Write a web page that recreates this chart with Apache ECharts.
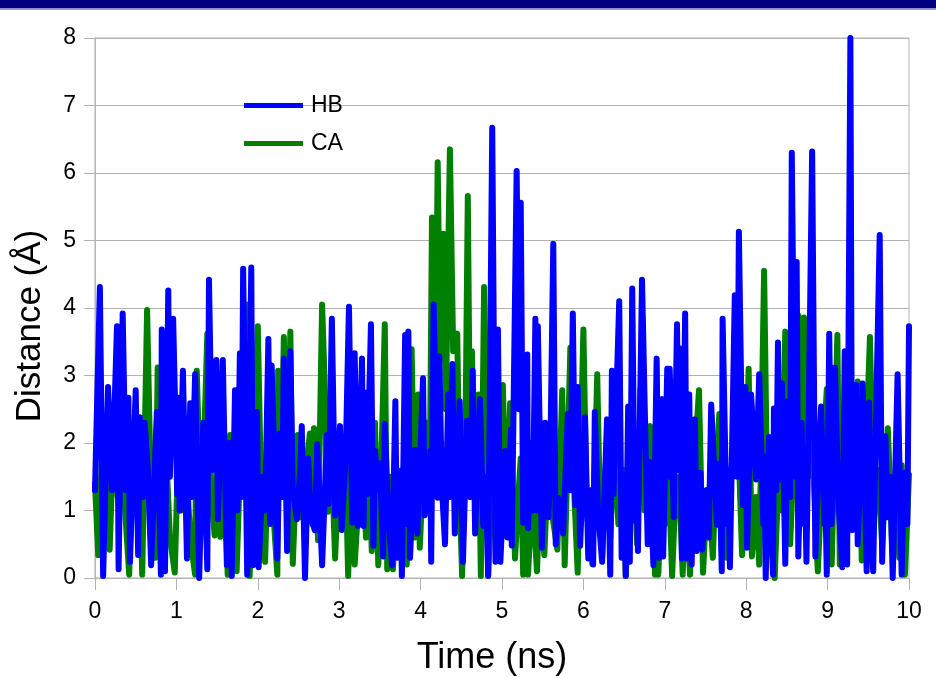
<!DOCTYPE html>
<html>
<head>
<meta charset="utf-8">
<script src="https://cdn.jsdelivr.net/npm/echarts@6/dist/echarts.min.js"></script>
<style>
  html, body { margin: 0; padding: 0; background: #fff; }
  #main { width: 936px; height: 678px; }
</style>
</head>
<body>
<div id="main"></div>
<script>
// [time (ns), distance (Å)]
const hbData = [
  [0.00,1.3],[0.06,4.31],[0.10,0.03],[0.16,2.83],[0.21,1.3],[0.27,3.73],[0.29,0.13],[0.34,3.92],[0.38,1.3],[0.41,2.67],[0.43,0.24],[0.50,2.78],[0.53,0.34],[0.55,2.38],[0.59,1.2],[0.61,2.3],[0.65,1.6],[0.69,0.19],[0.76,2.46],[0.81,0.05],[0.82,3.68],[0.86,0.1],[0.90,4.26],[0.92,1.5],[0.96,3.84],
  [1.01,1.24],[1.02,2.67],[1.04,1.0],[1.08,3.07],[1.13,0.29],[1.17,2.59],[1.19,1.2],[1.23,3.02],[1.28,0],[1.33,2.3],[1.38,0.13],[1.40,4.42],[1.44,1.6],[1.49,3.23],[1.51,0.87],[1.57,3.23],[1.62,0.19],[1.65,2.0],[1.68,0.03],[1.72,2.78],[1.75,1.0],[1.78,3.33],[1.80,1.2],[1.82,4.58],[1.87,0.05],[1.92,4.6],[1.94,0.19],[1.99,2.46],
  [2.01,0.16],[2.06,1.5],[2.09,1.0],[2.13,3.54],[2.15,0.8],[2.17,3.15],[2.24,0.29],[2.27,2.14],[2.30,1.2],[2.32,3.25],[2.36,0.4],[2.40,3.36],[2.43,1.3],[2.48,0.87],[2.52,1.6],[2.54,2.25],[2.58,0],[2.62,1.77],[2.65,0.9],[2.70,0.71],[2.73,1.98],[2.79,0.19],[2.85,2.12],[2.87,1.1],[2.91,3.84],[2.95,0.93],
  [3.01,2.25],[3.03,0.71],[3.08,1.8],[3.12,4.02],[3.16,0.82],[3.19,3.33],[3.23,0.77],[3.28,3.25],[3.30,0.77],[3.32,2.75],[3.34,1.24],[3.39,3.76],[3.42,0.48],[3.44,1.88],[3.48,1.3],[3.50,1.7],[3.54,0.32],[3.56,2.28],[3.60,1.0],[3.65,0.19],[3.69,2.62],[3.71,0.3],[3.75,1.59],[3.77,0.03],[3.81,3.6],[3.83,0.8],[3.85,3.65],[3.87,0.3],[3.93,1.9],[3.96,0.66],
  [4.03,2.96],[4.05,0.93],[4.12,1.88],[4.13,0.24],[4.16,4.05],[4.21,1.19],[4.23,3.28],[4.26,1.4],[4.30,0.5],[4.34,2.72],[4.36,1.2],[4.39,3.17],[4.42,0.66],[4.48,2.62],[4.52,0.24],[4.57,2.33],[4.61,1.2],[4.64,3.07],[4.67,0.66],[4.73,2.65],[4.77,0.77],[4.80,1.5],[4.83,0.03],[4.88,6.67],[4.92,0.24],[4.95,3.68],[4.98,0.24],
  [5.04,1.88],[5.07,0.6],[5.11,2.2],[5.12,0.48],[5.18,6.03],[5.21,2.5],[5.23,5.56],[5.26,0.82],[5.31,3.31],[5.32,0.74],[5.36,2.0],[5.38,1.0],[5.41,3.84],[5.43,1.0],[5.44,3.73],[5.49,0.45],[5.53,2.3],[5.57,0.9],[5.59,1.5],[5.63,4.95],[5.66,0.5],[5.69,1.19],[5.75,0.66],[5.81,2.43],[5.84,1.3],[5.87,3.92],[5.90,1.08],[5.93,2.83],[5.96,0.48],
  [6.02,2.38],[6.06,0.29],[6.09,1.3],[6.12,0.2],[6.14,2.46],[6.18,1.0],[6.23,0.24],[6.29,2.35],[6.33,0.05],[6.35,3.07],[6.37,1.24],[6.44,4.1],[6.47,0.3],[6.50,1.5],[6.52,0.03],[6.55,2.54],[6.57,0.24],[6.60,4.29],[6.63,0.85],[6.65,1.6],[6.67,0.4],[6.72,4.42],[6.79,0.5],[6.81,1.72],[6.86,0.19],[6.90,3.25],[6.93,0.3],[6.97,2.65],[6.98,0.32],
  [7.03,3.1],[7.05,1.5],[7.06,3.1],[7.11,0.9],[7.15,3.76],[7.17,1.6],[7.19,3.4],[7.21,0.29],[7.25,3.92],[7.27,0.29],[7.30,2.72],[7.33,0.2],[7.37,2.35],[7.39,0.4],[7.44,1.56],[7.46,0.42],[7.51,1.3],[7.54,0.6],[7.57,2.57],[7.64,0.79],[7.67,1.7],[7.70,0.1],[7.71,3.84],[7.76,0.8],[7.78,1.6],[7.80,0.16],[7.86,4.19],[7.89,1.5],[7.91,5.13],[7.96,1.08],[7.99,2.83],
  [8.01,0.45],[8.06,2.72],[8.12,1.46],[8.16,3.02],[8.21,0.8],[8.22,1.8],[8.24,0],[8.28,2.09],[8.30,1.0],[8.33,0.05],[8.34,2.51],[8.37,1.3],[8.39,3.49],[8.42,1.46],[8.44,2.88],[8.48,0.21],[8.51,2.62],[8.54,1.2],[8.56,6.3],[8.60,1.5],[8.62,4.68],[8.64,0.32],[8.68,2.3],[8.71,0.8],[8.72,1.6],[8.74,0.24],[8.77,2.6],[8.81,6.32],[8.85,0.32],[8.88,1.5],[8.92,2.54],[8.96,0.8],[8.97,1.4],[8.99,0.05],
  [9.02,3.62],[9.05,0.8],[9.09,3.12],[9.13,1.2],[9.18,0.16],[9.21,3.36],[9.24,0.2],[9.28,8.0],[9.30,0.71],[9.35,2.86],[9.37,0.5],[9.41,1.8],[9.43,2.88],[9.48,0.1],[9.51,2.6],[9.53,1.0],[9.56,0.1],[9.59,2.06],[9.64,5.08],[9.67,0.24],[9.71,2.1],[9.74,0.9],[9.77,1.5],[9.80,0],[9.86,3.02],[9.91,0.05],[9.94,1.56],[9.98,0.8],[10.00,3.73]
];

const caData = [
  [0.00,1.4],[0.04,0.34],[0.09,2.0],[0.14,1.0],[0.16,2.5],[0.18,0.42],[0.23,2.2],[0.28,1.2],[0.32,2.6],[0.37,1.0],[0.42,0.05],[0.47,2.2],[0.50,1.0],[0.54,2.0],[0.58,0.05],[0.64,3.97],[0.68,1.67],[0.71,1.0],[0.74,0.3],[0.77,3.12],[0.82,1.2],[0.87,2.0],[0.92,0.6],[0.98,0.08],
  [1.02,1.8],[1.06,1.0],[1.09,2.4],[1.14,1.2],[1.18,0.5],[1.23,0.05],[1.25,3.07],[1.29,1.4],[1.34,2.0],[1.38,3.62],[1.43,1.2],[1.47,0.63],[1.51,1.8],[1.54,0.61],[1.58,1.8],[1.63,0.05],[1.66,2.12],[1.71,1.0],[1.74,0.1],[1.79,2.0],[1.83,1.4],[1.87,4.05],[1.90,0.03],[1.95,2.0],
  [2.00,3.73],[2.04,1.3],[2.09,0.24],[2.14,2.5],[2.19,1.0],[2.24,0.05],[2.25,3.07],[2.29,1.6],[2.32,3.57],[2.36,1.2],[2.40,3.65],[2.43,0.21],[2.49,2.12],[2.54,0.9],[2.59,1.6],[2.64,2.14],[2.67,0.8],[2.69,2.22],[2.74,0.56],[2.79,4.05],[2.82,2.94],[2.86,0.98],[2.90,2.0],[2.95,0.29],
  [3.00,1.8],[3.04,0.8],[3.07,2.1],[3.11,0.03],[3.16,1.9],[3.19,0.2],[3.24,1.2],[3.29,1.56],[3.33,0.6],[3.37,1.6],[3.40,0.4],[3.44,2.3],[3.48,0.19],[3.52,1.8],[3.56,3.76],[3.59,0.13],[3.62,1.5],[3.66,0.13],[3.71,1.3],[3.75,0.4],[3.80,1.6],[3.83,0.2],[3.89,3.39],[3.93,0.6],[3.97,2.72],[3.99,0.45],
  [4.04,1.8],[4.08,2.3],[4.11,1.0],[4.14,5.34],[4.18,2.5],[4.21,6.16],[4.24,3.25],[4.28,5.1],[4.31,2.5],[4.36,6.35],[4.40,3.36],[4.45,3.62],[4.48,1.2],[4.51,0.03],[4.55,2.0],[4.58,5.66],[4.61,1.5],[4.63,3.36],[4.67,1.2],[4.71,2.72],[4.74,0.03],[4.78,4.31],[4.83,0.05],[4.88,1.4],[4.93,0.8],[4.98,1.8],
  [5.01,2.86],[5.06,0.61],[5.10,2.59],[5.16,0.29],[5.20,1.2],[5.23,1.77],[5.26,0.05],[5.29,1.5],[5.32,0.05],[5.37,1.3],[5.43,0.1],[5.47,1.4],[5.52,0.34],[5.57,1.8],[5.61,1.0],[5.68,0.42],[5.74,2.78],[5.77,0.19],[5.84,3.41],[5.89,1.2],[5.93,0.08],
  [6.00,3.68],[6.04,1.0],[6.11,0.21],[6.17,3.02],[6.20,1.2],[6.23,0.3],[6.28,1.8],[6.33,0.6],[6.38,2.0],[6.43,0.8],[6.49,1.6],[6.52,0.03],[6.57,1.4],[6.61,2.0],[6.66,0.5],[6.70,2.8],[6.75,1.0],[6.82,2.25],[6.88,0.05],[6.90,1.0],[6.92,0.05],[6.97,1.5],
  [7.00,0.8],[7.04,1.77],[7.09,0.03],[7.14,1.5],[7.19,1.0],[7.22,0.05],[7.26,1.4],[7.31,0.05],[7.36,1.6],[7.42,2.78],[7.47,0.08],[7.52,1.3],[7.56,0.9],[7.59,0.3],[7.63,1.6],[7.67,2.43],[7.70,0.4],[7.73,1.2],[7.76,0.3],[7.83,1.8],[7.89,2.51],[7.95,0.34],
  [8.00,1.6],[8.03,3.1],[8.07,0.32],[8.12,1.2],[8.16,0.2],[8.22,4.55],[8.26,1.0],[8.31,2.0],[8.35,0],[8.40,1.6],[8.44,1.0],[8.48,3.65],[8.54,0.5],[8.59,2.0],[8.64,3.89],[8.67,1.2],[8.71,3.86],[8.76,1.5],[8.81,2.2],[8.85,0.8],[8.88,0.1],[8.93,1.5],[8.99,2.8],
  [9.05,0.2],[9.12,3.6],[9.15,0.2],[9.20,1.6],[9.25,1.0],[9.30,2.0],[9.34,0.8],[9.37,2.91],[9.42,0.26],[9.47,1.8],[9.52,3.57],[9.57,0.9],[9.62,1.6],[9.67,0.5],[9.71,1.4],[9.74,2.22],[9.79,0.56],[9.84,1.5],[9.88,0.3],[9.91,1.67],[9.95,0.05],[10.00,1.53]
];

const seriesNames = ['HB', 'CA'];
const font = 'Liberation Sans, Arial, sans-serif';
const gridGray = '#b3b3b3';

const chart = echarts.init(document.getElementById('main'), null, { renderer: 'canvas' });

const option = {
  backgroundColor: '#ffffff',
  animation: false,
  textStyle: { fontFamily: font },
  graphic: [
    { type: 'rect', shape: { x: 0, y: 0, width: 936, height: 8.5 }, style: { fill: '#000080' } },
    { type: 'rect', shape: { x: 0, y: 8.5, width: 936, height: 1.5 }, style: { fill: '#9a9ad0' } }
  ],
  grid: {
    left: 95, right: 27, top: 38, bottom: 100,
    outerBoundsMode: 'none',
    containLabel: false,
    show: true, borderColor: gridGray, borderWidth: 1
  },
  legend: {
    data: seriesNames,
    orient: 'vertical',
    left: 244, top: 94,
    padding: 0,
    icon: 'rect',
    itemWidth: 59, itemHeight: 5,
    itemGap: 15,
    textStyle: { fontSize: 23, color: '#000', fontFamily: font, padding: [0, 0, 0, 3] }
  },
  xAxis: {
    type: 'value', min: 0, max: 10, interval: 1,
    name: 'Time (ns)', nameLocation: 'middle', nameGap: 62,
    nameTextStyle: { fontSize: 36, color: '#000', fontFamily: font, padding: [0, 20, 0, 0] },
    axisLine: { show: true, lineStyle: { color: gridGray } },
    axisTick: { show: true, length: 12, lineStyle: { color: gridGray } },
    axisLabel: { fontSize: 23, color: '#000', margin: 22, fontFamily: font },
    splitLine: { show: false }
  },
  yAxis: {
    type: 'value', min: 0, max: 8, interval: 1,
    name: 'Distance (Å)', nameLocation: 'middle', nameGap: 47,
    nameTextStyle: { fontSize: 35, color: '#000', fontFamily: font, padding: [0, 36, 0, 0] },
    axisLine: { show: true, lineStyle: { color: gridGray } },
    axisTick: { show: true, length: 11, lineStyle: { color: gridGray } },
    axisLabel: { fontSize: 23, color: '#000', margin: 19, fontFamily: font },
    splitLine: { show: true, lineStyle: { color: gridGray } }
  },
  series: [
    {
      name: 'CA', type: 'line', data: caData,
      showSymbol: false, symbol: 'none',
      itemStyle: { color: '#008000' },
      lineStyle: { color: '#008000', width: 6, cap: 'round', join: 'round' }
    },
    {
      name: 'HB', type: 'line', data: hbData,
      showSymbol: false, symbol: 'none',
      itemStyle: { color: '#0000ff' },
      lineStyle: { color: '#0000ff', width: 6, cap: 'round', join: 'round' }
    }
  ]
};

chart.setOption(option);
</script>
</body>
</html>
